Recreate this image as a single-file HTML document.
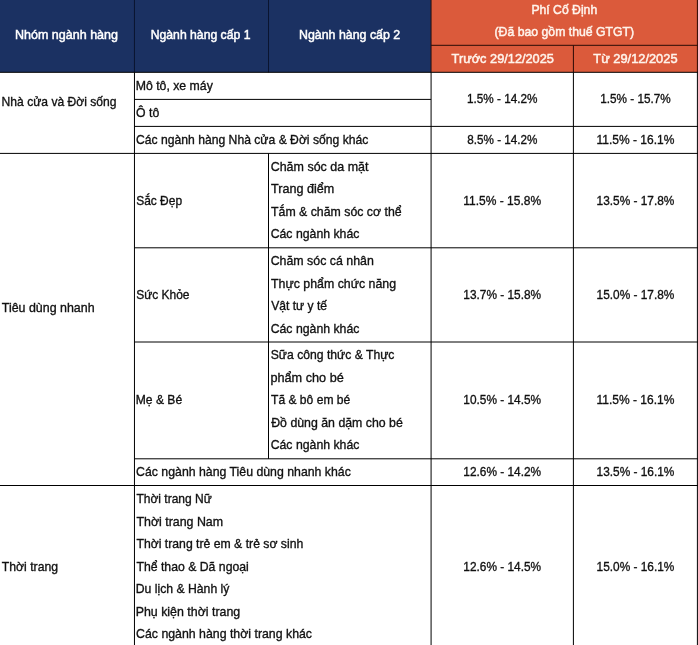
<!DOCTYPE html>
<html><head><meta charset="utf-8"><style>
html,body{margin:0;padding:0;background:#fff;}
body{width:698px;height:645px;overflow:hidden;}
svg{display:block;will-change:transform;font-family:"Liberation Sans",sans-serif;}
</style></head><body>
<svg width="698" height="645" viewBox="0 0 698 645">
<rect x="0" y="0" width="431.08" height="72.3" fill="#1b3162"/>
<rect x="431.08" y="0" width="267" height="72.3" fill="#db5a3b"/>
<line x1="134.46" y1="0" x2="134.46" y2="72.3" stroke="#0a1430" stroke-width="1"/>
<line x1="134.46" y1="72.3" x2="134.46" y2="645" stroke="#000000" stroke-width="1"/>
<line x1="268.5" y1="0" x2="268.5" y2="72.3" stroke="#0a1430" stroke-width="1"/>
<line x1="268.5" y1="153.4" x2="268.5" y2="458.8" stroke="#000000" stroke-width="1"/>
<line x1="431.08" y1="0" x2="431.08" y2="72.3" stroke="#2a0a05" stroke-width="1"/>
<line x1="431.08" y1="72.3" x2="431.08" y2="645" stroke="#000000" stroke-width="1"/>
<line x1="573.4" y1="45.3" x2="573.4" y2="72.3" stroke="#2a0a05" stroke-width="1"/>
<line x1="573.4" y1="72.3" x2="573.4" y2="645" stroke="#000000" stroke-width="1"/>
<line x1="697.4" y1="0" x2="697.4" y2="72.3" stroke="#2a0a05" stroke-width="1"/>
<line x1="697.4" y1="72.3" x2="697.4" y2="645" stroke="#000000" stroke-width="1"/>
<line x1="431.08" y1="45.3" x2="698" y2="45.3" stroke="#2a0a05" stroke-width="1"/>
<line x1="0" y1="72.3" x2="698" y2="72.3" stroke="#000000" stroke-width="1"/>
<line x1="134.46" y1="99.4" x2="431.08" y2="99.4" stroke="#000000" stroke-width="1"/>
<line x1="134.46" y1="126.4" x2="698" y2="126.4" stroke="#000000" stroke-width="1"/>
<line x1="0" y1="153.4" x2="698" y2="153.4" stroke="#000000" stroke-width="1"/>
<line x1="134.46" y1="247.8" x2="698" y2="247.8" stroke="#000000" stroke-width="1"/>
<line x1="134.46" y1="342.0" x2="698" y2="342.0" stroke="#000000" stroke-width="1"/>
<line x1="134.46" y1="458.8" x2="698" y2="458.8" stroke="#000000" stroke-width="1"/>
<line x1="0" y1="485.5" x2="698" y2="485.5" stroke="#000000" stroke-width="1"/>
<text x="14.97" y="38.60" textLength="103.03" lengthAdjust="spacingAndGlyphs" font-size="13.4" font-weight="normal" fill="#ffffff" stroke="#ffffff" stroke-width="0.5">Nhóm ngành hàng</text>
<text x="150.70" y="38.50" textLength="99.80" lengthAdjust="spacingAndGlyphs" font-size="13.4" font-weight="normal" fill="#ffffff" stroke="#ffffff" stroke-width="0.5">Ngành hàng cấp 1</text>
<text x="298.98" y="38.50" textLength="101.24" lengthAdjust="spacingAndGlyphs" font-size="13.4" font-weight="normal" fill="#ffffff" stroke="#ffffff" stroke-width="0.5">Ngành hàng cấp 2</text>
<text x="531.40" y="13.90" textLength="65.79" lengthAdjust="spacingAndGlyphs" font-size="13.4" font-weight="normal" fill="#fff4ec" stroke="#fff4ec" stroke-width="0.5">Phí Cố Định</text>
<text x="494.54" y="36.20" textLength="139.62" lengthAdjust="spacingAndGlyphs" font-size="13.4" font-weight="normal" fill="#fff4ec" stroke="#fff4ec" stroke-width="0.5">(Đã bao gồm thuế GTGT)</text>
<text x="451.61" y="62.90" textLength="102.32" lengthAdjust="spacingAndGlyphs" font-size="13.4" font-weight="normal" fill="#fff4ec" stroke="#fff4ec" stroke-width="0.5">Trước 29/12/2025</text>
<text x="593.31" y="62.90" textLength="84.23" lengthAdjust="spacingAndGlyphs" font-size="13.4" font-weight="normal" fill="#fff4ec" stroke="#fff4ec" stroke-width="0.5">Từ 29/12/2025</text>
<text x="1.61" y="105.50" textLength="114.87" lengthAdjust="spacingAndGlyphs" font-size="13.2" font-weight="normal" fill="#111111" stroke="#111111" stroke-width="0.35">Nhà cửa và Đời sống</text>
<text x="1.82" y="312.20" textLength="92.78" lengthAdjust="spacingAndGlyphs" font-size="13.2" font-weight="normal" fill="#111111" stroke="#111111" stroke-width="0.35">Tiêu dùng nhanh</text>
<text x="1.83" y="570.80" textLength="56.26" lengthAdjust="spacingAndGlyphs" font-size="13.2" font-weight="normal" fill="#111111" stroke="#111111" stroke-width="0.35">Thời trang</text>
<text x="135.69" y="89.75" textLength="77.13" lengthAdjust="spacingAndGlyphs" font-size="13.2" font-weight="normal" fill="#111111" stroke="#111111" stroke-width="0.35">Mô tô, xe máy</text>
<text x="136.12" y="116.80" textLength="23.20" lengthAdjust="spacingAndGlyphs" font-size="13.2" font-weight="normal" fill="#111111" stroke="#111111" stroke-width="0.35">Ô tô</text>
<text x="136.08" y="143.80" textLength="232.24" lengthAdjust="spacingAndGlyphs" font-size="13.2" font-weight="normal" fill="#111111" stroke="#111111" stroke-width="0.35">Các ngành hàng Nhà cửa & Đời sống khác</text>
<text x="136.16" y="204.50" textLength="45.95" lengthAdjust="spacingAndGlyphs" font-size="13.2" font-weight="normal" fill="#111111" stroke="#111111" stroke-width="0.35">Sắc Đẹp</text>
<text x="136.16" y="298.80" textLength="53.38" lengthAdjust="spacingAndGlyphs" font-size="13.2" font-weight="normal" fill="#111111" stroke="#111111" stroke-width="0.35">Sức Khỏe</text>
<text x="135.71" y="404.30" textLength="46.43" lengthAdjust="spacingAndGlyphs" font-size="13.2" font-weight="normal" fill="#111111" stroke="#111111" stroke-width="0.35">Mẹ & Bé</text>
<text x="136.08" y="476.05" textLength="214.75" lengthAdjust="spacingAndGlyphs" font-size="13.2" font-weight="normal" fill="#111111" stroke="#111111" stroke-width="0.35">Các ngành hàng Tiêu dùng nhanh khác</text>
<text x="136.43" y="503.30" textLength="75.34" lengthAdjust="spacingAndGlyphs" font-size="13.2" font-weight="normal" fill="#111111" stroke="#111111" stroke-width="0.35">Thời trang Nữ</text>
<text x="136.42" y="525.80" textLength="86.70" lengthAdjust="spacingAndGlyphs" font-size="13.2" font-weight="normal" fill="#111111" stroke="#111111" stroke-width="0.35">Thời trang Nam</text>
<text x="136.43" y="548.30" textLength="166.87" lengthAdjust="spacingAndGlyphs" font-size="13.2" font-weight="normal" fill="#111111" stroke="#111111" stroke-width="0.35">Thời trang trẻ em & trẻ sơ sinh</text>
<text x="136.42" y="570.80" textLength="112.40" lengthAdjust="spacingAndGlyphs" font-size="13.2" font-weight="normal" fill="#111111" stroke="#111111" stroke-width="0.35">Thể thao & Dã ngoại</text>
<text x="135.70" y="593.30" textLength="93.73" lengthAdjust="spacingAndGlyphs" font-size="13.2" font-weight="normal" fill="#111111" stroke="#111111" stroke-width="0.35">Du lịch & Hành lý</text>
<text x="135.68" y="615.80" textLength="104.51" lengthAdjust="spacingAndGlyphs" font-size="13.2" font-weight="normal" fill="#111111" stroke="#111111" stroke-width="0.35">Phụ kiện thời trang</text>
<text x="136.07" y="638.30" textLength="175.95" lengthAdjust="spacingAndGlyphs" font-size="13.2" font-weight="normal" fill="#111111" stroke="#111111" stroke-width="0.35">Các ngành hàng thời trang khác</text>
<text x="270.67" y="170.75" textLength="97.83" lengthAdjust="spacingAndGlyphs" font-size="13.2" font-weight="normal" fill="#111111" stroke="#111111" stroke-width="0.35">Chăm sóc da mặt</text>
<text x="271.02" y="193.25" textLength="63.20" lengthAdjust="spacingAndGlyphs" font-size="13.2" font-weight="normal" fill="#111111" stroke="#111111" stroke-width="0.35">Trang điểm</text>
<text x="271.02" y="215.75" textLength="130.61" lengthAdjust="spacingAndGlyphs" font-size="13.2" font-weight="normal" fill="#111111" stroke="#111111" stroke-width="0.35">Tắm & chăm sóc cơ thể</text>
<text x="270.68" y="238.25" textLength="88.75" lengthAdjust="spacingAndGlyphs" font-size="13.2" font-weight="normal" fill="#111111" stroke="#111111" stroke-width="0.35">Các ngành khác</text>
<text x="270.67" y="265.05" textLength="103.23" lengthAdjust="spacingAndGlyphs" font-size="13.2" font-weight="normal" fill="#111111" stroke="#111111" stroke-width="0.35">Chăm sóc cá nhân</text>
<text x="271.02" y="287.55" textLength="125.07" lengthAdjust="spacingAndGlyphs" font-size="13.2" font-weight="normal" fill="#111111" stroke="#111111" stroke-width="0.35">Thực phẩm chức năng</text>
<text x="271.25" y="310.05" textLength="55.82" lengthAdjust="spacingAndGlyphs" font-size="13.2" font-weight="normal" fill="#111111" stroke="#111111" stroke-width="0.35">Vật tư y tế</text>
<text x="270.68" y="332.55" textLength="88.75" lengthAdjust="spacingAndGlyphs" font-size="13.2" font-weight="normal" fill="#111111" stroke="#111111" stroke-width="0.35">Các ngành khác</text>
<text x="270.75" y="359.30" textLength="123.67" lengthAdjust="spacingAndGlyphs" font-size="13.2" font-weight="normal" fill="#111111" stroke="#111111" stroke-width="0.35">Sữa công thức & Thực</text>
<text x="270.48" y="381.80" textLength="73.28" lengthAdjust="spacingAndGlyphs" font-size="13.2" font-weight="normal" fill="#111111" stroke="#111111" stroke-width="0.35">phẩm cho bé</text>
<text x="271.03" y="404.30" textLength="79.21" lengthAdjust="spacingAndGlyphs" font-size="13.2" font-weight="normal" fill="#111111" stroke="#111111" stroke-width="0.35">Tã & bô em bé</text>
<text x="271.22" y="426.80" textLength="131.63" lengthAdjust="spacingAndGlyphs" font-size="13.2" font-weight="normal" fill="#111111" stroke="#111111" stroke-width="0.35">Đồ dùng ăn dặm cho bé</text>
<text x="270.68" y="449.30" textLength="88.75" lengthAdjust="spacingAndGlyphs" font-size="13.2" font-weight="normal" fill="#111111" stroke="#111111" stroke-width="0.35">Các ngành khác</text>
<text x="466.96" y="103.35" textLength="70.51" lengthAdjust="spacingAndGlyphs" font-size="13.2" font-weight="normal" fill="#111111" stroke="#111111" stroke-width="0.35">1.5% - 14.2%</text>
<text x="600.21" y="103.35" textLength="70.51" lengthAdjust="spacingAndGlyphs" font-size="13.2" font-weight="normal" fill="#111111" stroke="#111111" stroke-width="0.35">1.5% - 15.7%</text>
<text x="467.34" y="143.90" textLength="70.12" lengthAdjust="spacingAndGlyphs" font-size="13.2" font-weight="normal" fill="#111111" stroke="#111111" stroke-width="0.35">8.5% - 14.2%</text>
<text x="596.55" y="143.90" textLength="77.83" lengthAdjust="spacingAndGlyphs" font-size="13.2" font-weight="normal" fill="#111111" stroke="#111111" stroke-width="0.35">11.5% - 16.1%</text>
<text x="463.30" y="204.60" textLength="77.83" lengthAdjust="spacingAndGlyphs" font-size="13.2" font-weight="normal" fill="#111111" stroke="#111111" stroke-width="0.35">11.5% - 15.8%</text>
<text x="596.55" y="204.60" textLength="77.83" lengthAdjust="spacingAndGlyphs" font-size="13.2" font-weight="normal" fill="#111111" stroke="#111111" stroke-width="0.35">13.5% - 17.8%</text>
<text x="463.30" y="298.90" textLength="77.83" lengthAdjust="spacingAndGlyphs" font-size="13.2" font-weight="normal" fill="#111111" stroke="#111111" stroke-width="0.35">13.7% - 15.8%</text>
<text x="596.55" y="298.90" textLength="77.83" lengthAdjust="spacingAndGlyphs" font-size="13.2" font-weight="normal" fill="#111111" stroke="#111111" stroke-width="0.35">15.0% - 17.8%</text>
<text x="463.30" y="404.40" textLength="77.83" lengthAdjust="spacingAndGlyphs" font-size="13.2" font-weight="normal" fill="#111111" stroke="#111111" stroke-width="0.35">10.5% - 14.5%</text>
<text x="596.55" y="404.40" textLength="77.83" lengthAdjust="spacingAndGlyphs" font-size="13.2" font-weight="normal" fill="#111111" stroke="#111111" stroke-width="0.35">11.5% - 16.1%</text>
<text x="463.30" y="476.15" textLength="77.83" lengthAdjust="spacingAndGlyphs" font-size="13.2" font-weight="normal" fill="#111111" stroke="#111111" stroke-width="0.35">12.6% - 14.2%</text>
<text x="596.55" y="476.15" textLength="77.83" lengthAdjust="spacingAndGlyphs" font-size="13.2" font-weight="normal" fill="#111111" stroke="#111111" stroke-width="0.35">13.5% - 16.1%</text>
<text x="463.30" y="570.50" textLength="77.83" lengthAdjust="spacingAndGlyphs" font-size="13.2" font-weight="normal" fill="#111111" stroke="#111111" stroke-width="0.35">12.6% - 14.5%</text>
<text x="596.55" y="570.50" textLength="77.83" lengthAdjust="spacingAndGlyphs" font-size="13.2" font-weight="normal" fill="#111111" stroke="#111111" stroke-width="0.35">15.0% - 16.1%</text>
</svg>
</body></html>
